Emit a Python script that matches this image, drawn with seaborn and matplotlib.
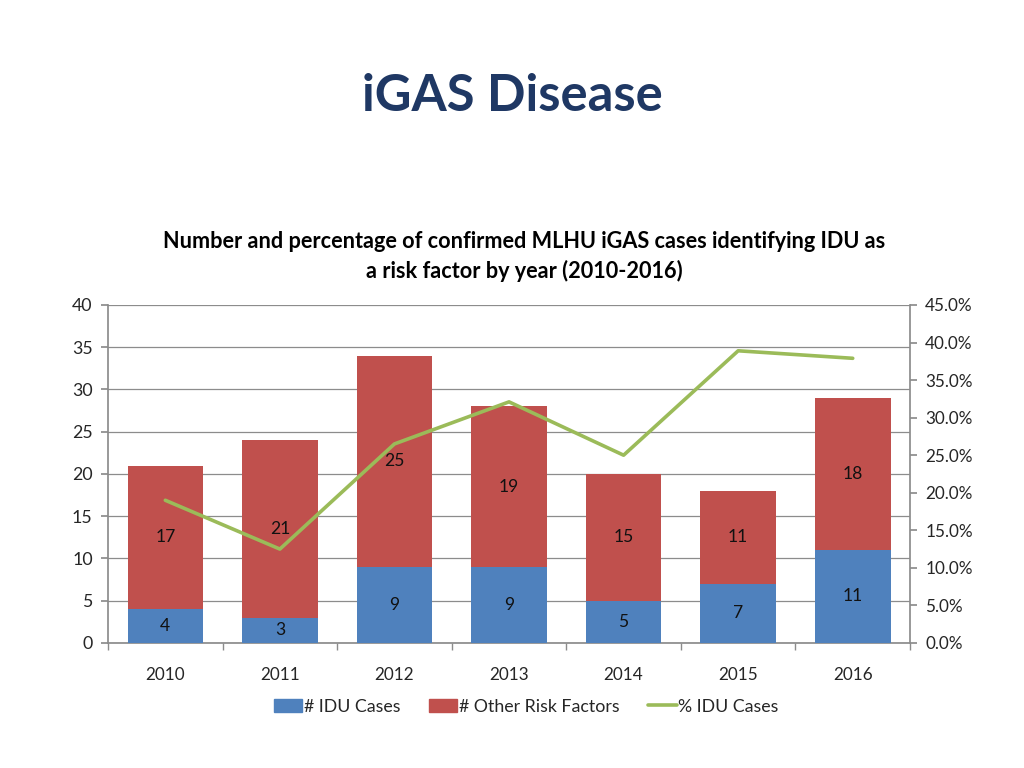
import numpy as np
import pandas as pd
import matplotlib
matplotlib.use("Agg")
import matplotlib.pyplot as plt
import seaborn as sns
from matplotlib.patches import Patch
from matplotlib.lines import Line2D
from matplotlib.ticker import FuncFormatter, FixedLocator

years = ["2010", "2011", "2012", "2013", "2014", "2015", "2016"]
idu_cases = [4, 3, 9, 9, 5, 7, 11]
other_cases = [17, 21, 25, 19, 15, 11, 18]
pct_idu = [19.0, 12.5, 26.5, 32.1, 25.0, 38.9, 37.9]

sns.set_theme(style="white")
plt.rcParams["font.family"] = ["Lato", "DejaVu Sans"]

BLUE = "#4F81BD"
RED = "#C0504D"
GREEN = "#9BBB59"
FS = 12.3

df = pd.DataFrame({"year": years, "idu": idu_cases, "other": other_cases})
df["total"] = df["idu"] + df["other"]

fig = plt.figure(figsize=(10.24, 7.68), dpi=100)
ax = fig.add_axes([0.1055, 0.1628, 0.7832, 0.4401])

sns.barplot(data=df, x="year", y="total", color=RED, saturation=1, width=0.66,
            ax=ax, linewidth=0, zorder=2)
sns.barplot(data=df, x="year", y="idu", color=BLUE, saturation=1, width=0.66,
            ax=ax, linewidth=0, zorder=3)

for i, (a, b) in enumerate(zip(idu_cases, other_cases)):
    ax.text(i, a / 2, str(a), ha="center", va="center", fontsize=FS + 0.3, color="#111111", zorder=5)
    ax.text(i, a + b / 2, str(b), ha="center", va="center", fontsize=FS + 0.3, color="#111111", zorder=5)

ax.set_ylim(0, 40)
ax.set_xlim(-0.5, 6.5)
ax.set_yticks(range(0, 41, 5))
ax.yaxis.grid(True, color="#8c8c8c", linewidth=0.9, zorder=0)
ax.set_axisbelow(True)
ax.set_xlabel("")
ax.set_ylabel("")
for s in ["top", "right"]:
    ax.spines[s].set_visible(False)
ax.spines["left"].set_color("#8c8c8c")
ax.spines["bottom"].set_color("#8c8c8c")
ax.tick_params(axis="y", which="major", length=5, color="#8c8c8c", labelsize=FS + 0.5, pad=6, left=True)
ax.tick_params(axis="x", which="major", length=0, labelsize=FS, pad=17)
ax.xaxis.set_minor_locator(FixedLocator(np.arange(-0.5, 7, 1)))
ax.tick_params(axis="x", which="minor", length=5, color="#8c8c8c", bottom=True)

ax2 = ax.twinx()
sns.lineplot(x=np.arange(len(years)), y=pct_idu, color=GREEN, linewidth=2.6, ax=ax2, zorder=6)
ax2.set_ylim(0, 45)
ax2.set_yticks(np.arange(0, 46, 5))
ax2.yaxis.set_major_formatter(FuncFormatter(lambda v, p: f"{v:.1f}%"))
for s in ["top", "left", "bottom"]:
    ax2.spines[s].set_visible(False)
ax2.spines["right"].set_color("#8c8c8c")
ax2.tick_params(axis="y", length=5, color="#8c8c8c", labelsize=FS, pad=6, right=True)
ax2.set_xlim(-0.5, 6.5)

fig.text(0.5, 0.874, "iGAS Disease", ha="center", va="center", fontsize=36.5,
         fontweight="bold", color="#1F3864")
fig.text(0.512, 0.666, "Number and percentage of confirmed MLHU iGAS cases identifying IDU as\na risk factor by year (2010-2016)",
         ha="center", va="center", fontsize=15.6, fontweight="bold", color="#000000",
         linespacing=1.4)

handles = [Patch(color=BLUE, label="# IDU Cases"),
           Patch(color=RED, label="# Other Risk Factors"),
           Line2D([0], [0], color=GREEN, linewidth=2.6, label="% IDU Cases")]
fig.legend(handles=handles, loc="center", bbox_to_anchor=(0.514, 0.080), ncol=3,
           frameon=False, fontsize=FS + 0.5, handlelength=1.6, handleheight=0.7,
           handletextpad=0.1, columnspacing=1.6)

fig.savefig("out.png", dpi=100)
